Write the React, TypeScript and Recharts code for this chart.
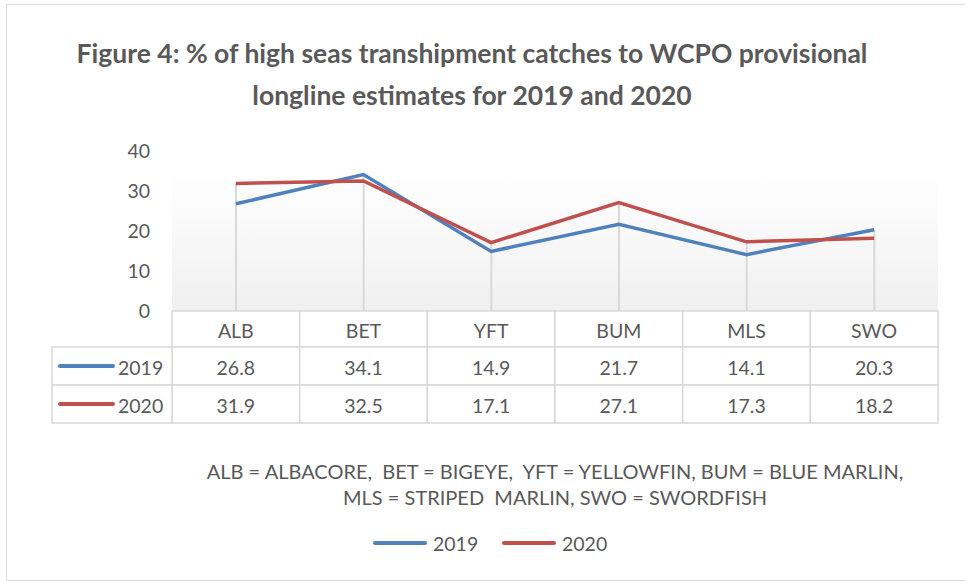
import React from 'react';
import { ComposedChart, Line, Bar, XAxis, YAxis, ReferenceArea } from 'recharts';

const categories = ['ALB', 'BET', 'YFT', 'BUM', 'MLS', 'SWO'];
const values2019 = [26.8, 34.1, 14.9, 21.7, 14.1, 20.3];
const values2020 = [31.9, 32.5, 17.1, 27.1, 17.3, 18.2];
const seriesNames = ['2019', '2020'];
const yTicks = [0, 10, 20, 30, 40];
const footnoteLines = [
  'ALB = ALBACORE,  BET = BIGEYE,  YFT = YELLOWFIN, BUM = BLUE MARLIN,',
  'MLS = STRIPED  MARLIN, SWO = SWORDFISH',
];
const titleLines = [
  'Figure 4: % of high seas transhipment catches to WCPO provisional',
  'longline estimates for 2019 and 2020',
];

const BLUE = '#4f81bd';
const RED = '#c0504d';
const TEXT = '#595959';
const GRID = '#d9d9d9';
const FONT = "Lato, 'Open Sans', sans-serif";

const W = 965;
const H = 581;
const PLOT_LEFT = 172;
const PLOT_RIGHT = 938;
const Y_TOP = 151;
const Y_BOTTOM = 311;
const YAXIS_W = 60;
const XAXIS_H = 112;
const COL_W = (PLOT_RIGHT - PLOT_LEFT) / categories.length;
const ROW_TOPS = [311, 347, 385, 423];

const data = categories.map((cat, i) => ({
  cat,
  y2019: values2019[i],
  y2020: values2020[i],
  drop: Math.max(values2019[i], values2020[i]),
}));

// each x tick draws one column of the data table under the plot
const TableColumn = (props: any) => {
  const { x, payload } = props;
  const i = categories.indexOf(payload.value);
  const left = x - COL_W / 2;
  const cells = [payload.value, values2019[i].toFixed(1), values2020[i].toFixed(1)];
  return (
    <g>
      {cells.map((txt, r) => (
        <g key={r}>
          <rect
            x={left}
            y={ROW_TOPS[r]}
            width={COL_W}
            height={ROW_TOPS[r + 1] - ROW_TOPS[r]}
            fill="#fff"
            stroke={GRID}
            strokeWidth={1.5}
          />
          <text
            x={x}
            y={(ROW_TOPS[r] + ROW_TOPS[r + 1]) / 2 + 1}
            textAnchor="middle"
            dominantBaseline="central"
            fill={TEXT}
            fontSize={19.5}
            fontFamily={FONT}
          >
            {txt}
          </text>
        </g>
      ))}
    </g>
  );
};

export default function App() {
  return (
    <div style={{ position: 'absolute', left: 0, top: 0, width: W, height: H, background: '#fff', overflow: 'hidden', fontFamily: FONT }}>
      <div style={{ position: 'absolute', left: 6, top: 4, width: 980, height: 575, border: `1.5px solid ${GRID}` }} />

      <div style={{ position: 'absolute', left: 0, top: 32, width: 944, textAlign: 'center', color: TEXT, fontWeight: 700, fontSize: 26.5, lineHeight: '42px' }}>
        {titleLines.map((t) => (
          <div key={t}>{t}</div>
        ))}
      </div>

      <div style={{ position: 'absolute', left: 0, top: 0 }}>
        <ComposedChart
          width={W}
          height={H}
          data={data}
          margin={{ top: Y_TOP, right: W - PLOT_RIGHT, bottom: H - Y_BOTTOM - XAXIS_H, left: PLOT_LEFT - YAXIS_W }}
        >
          <defs>
            <linearGradient id="plotBg" x1="0" y1="0" x2="0" y2="1">
              <stop offset="0" stopColor="#ffffff" />
              <stop offset="1" stopColor="#f0f0f0" />
            </linearGradient>
          </defs>
          <ReferenceArea y1={0} y2={35} fill="url(#plotBg)" fillOpacity={1} stroke="none" />
          <XAxis
            dataKey="cat"
            height={XAXIS_H}
            axisLine={false}
            tickLine={false}
            interval={0}
            tick={(p: any) => <TableColumn {...p} />}
          />
          <YAxis
            width={YAXIS_W}
            domain={[0, 40]}
            ticks={yTicks}
            axisLine={false}
            tickLine={false}
            tickSize={0}
            tickMargin={22}
            tick={{ fill: TEXT, fontSize: 19.5, fontFamily: FONT }}
          />
          <Bar dataKey="drop" barSize={2} fill={GRID} isAnimationActive={false} />
          <Line dataKey="y2019" name={seriesNames[0]} stroke={BLUE} strokeWidth={3.5} dot={false} isAnimationActive={false} />
          <Line dataKey="y2020" name={seriesNames[1]} stroke={RED} strokeWidth={3.5} dot={false} isAnimationActive={false} />
        </ComposedChart>
      </div>

      {/* series keys at the left of the data table */}
      <svg style={{ position: 'absolute', left: 0, top: 0 }} width={W} height={H}>
        {seriesNames.map((name, r) => {
          const top = ROW_TOPS[r + 1];
          const h = ROW_TOPS[r + 2] - top;
          const cy = top + h / 2;
          return (
            <g key={name}>
              <rect x={52} y={top} width={PLOT_LEFT - 52} height={h} fill="#fff" stroke={GRID} strokeWidth={1.5} />
              <line x1={60} x2={113} y1={cy} y2={cy} stroke={r === 0 ? BLUE : RED} strokeWidth={4} strokeLinecap="round" />
              <text x={118} y={cy + 1} dominantBaseline="central" fill={TEXT} fontSize={19.5} fontFamily={FONT}>
                {name}
              </text>
            </g>
          );
        })}
      </svg>

      <div style={{ position: 'absolute', left: 155, top: 458, width: 800, textAlign: 'center', color: TEXT, fontSize: 20, lineHeight: '26px', whiteSpace: 'pre' }}>
        {footnoteLines.map((t) => (
          <div key={t}>{t}</div>
        ))}
      </div>

      <div style={{ position: 'absolute', left: 0, top: 529, width: W, height: 28 }}>
        {seriesNames.map((name, r) => (
          <div key={name} style={{ position: 'absolute', left: r === 0 ? 373 : 502, top: 0, display: 'flex', alignItems: 'center', height: 28 }}>
            <div style={{ width: 54, height: 4, borderRadius: 2, background: r === 0 ? BLUE : RED }} />
            <span style={{ marginLeft: 6, color: TEXT, fontSize: 19.5 }}>{name}</span>
          </div>
        ))}
      </div>
    </div>
  );
}
